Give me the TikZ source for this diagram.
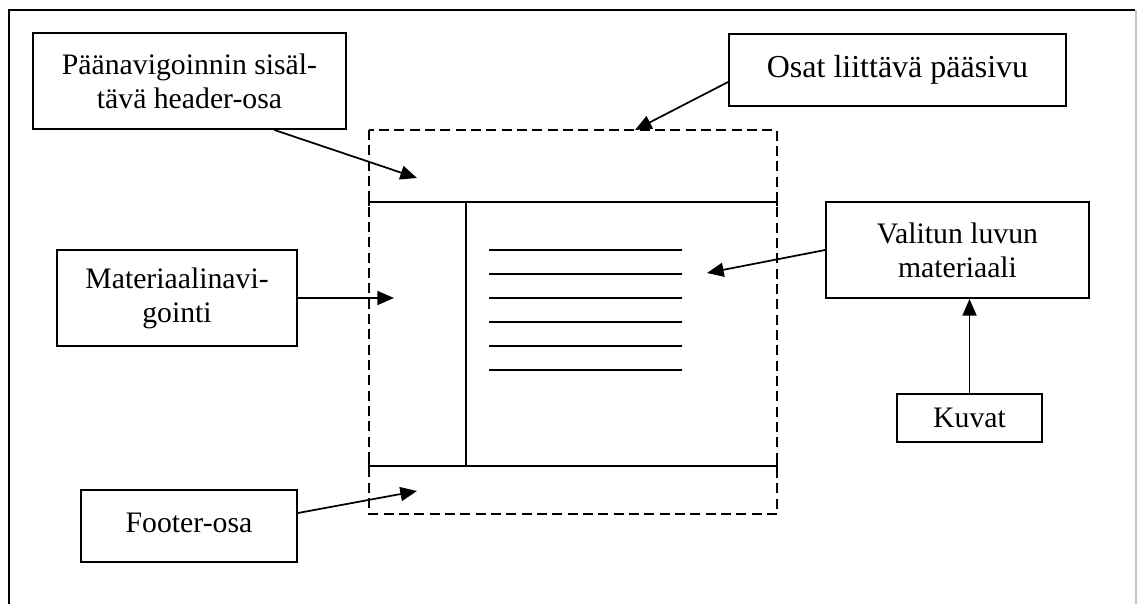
\documentclass[tikz,border=0pt]{standalone}
\usepackage{fontspec}
\setmainfont{Liberation Serif}
\usetikzlibrary{arrows.meta,calc}

\begin{document}
\begin{tikzpicture}[x=0.75pt,y=-0.75pt,
  box/.style={draw,line width=1.4pt,inner sep=0pt,align=center,
    font=\fontsize{22.3}{25.5}\selectfont},
  pointer/.style={line width=1.3pt,-{Triangle[length=12.5pt,width=10.5pt]}},
  region/.style={line width=1.2pt,dash pattern=on 7.5pt off 4pt},
  divider/.style={line width=1.2pt},
  textline/.style={line width=1.2pt}]
\useasboundingbox (0,0) rectangle (1137,603);

% page frame (open at the bottom)
\draw[line width=1.5pt] (9,606) -- (9,10) -- (1135,10);
\draw[line width=1pt,gray!45] (1136,10) -- (1136,606);

% labelled boxes
\node[box,minimum width=234.75pt,minimum height=72pt] (hdr) at (189.5,81)
  {Päänavigoinnin sisäl-\\tävä header-osa};
\node[box,minimum width=252.75pt,minimum height=54pt,
  font=\fontsize{24}{28}\selectfont] (osat) at (897.5,70)
  {Osat liittävä pääsivu};
\node[box,minimum width=180pt,minimum height=72pt] (mat) at (177,298)
  {Materiaalinavi-\\gointi};
\node[box,minimum width=197.25pt,minimum height=72pt] (val) at (957.5,250)
  {Valitun luvun\\materiaali};
\node[box,minimum width=108.75pt,minimum height=36pt] (kuv) at (969.5,418)
  {Kuvat};
\node[box,minimum width=162pt,minimum height=54pt] (foot) at (189,526)
  {\raisebox{4.5pt}{Footer-osa}};

% page layout sketch
\draw[region] (369,130) rectangle (777,514);
\draw[divider] (369,202) -- (777,202);
\draw[divider] (369,466) -- (777,466);
\draw[divider] (369,198) -- (369,206) (777,198) -- (777,206);
\draw[divider] (369,462) -- (369,470) (777,462) -- (777,470);
\draw[divider] (466,202) -- (466,466);
\foreach \yy in {250,274,298,322,346,370}
  \draw[textline] (489,\yy) -- (682,\yy);

% arrow targets inside the layout
\coordinate (tHdr) at (417,178);
\coordinate (tOsat) at (635,130);
\coordinate (tMat) at (394,298);
\coordinate (tVal) at (707,273);
\coordinate (tFoot) at (417,491);

% connectors
\draw[pointer] (hdr.-30) -- (tHdr);
\draw[pointer] ($(osat.west)+(0,12)$) -- (tOsat);
\draw[pointer] (mat.east) -- (tMat);
\draw[pointer] (val.west) -- (tVal);
\draw[pointer] (kuv.north) -- (kuv.north |- val.south);
\draw[pointer] ($(foot.east)+(0,-13)$) -- (tFoot);
\end{tikzpicture}
\end{document}
